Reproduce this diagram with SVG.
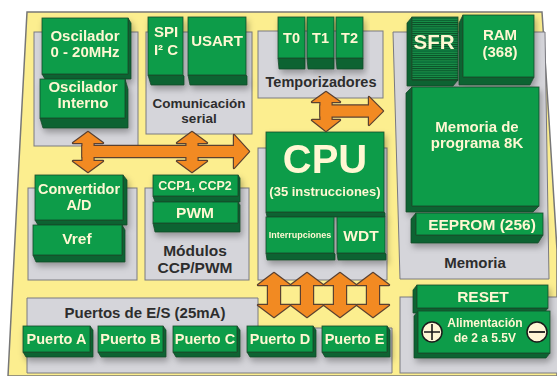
<svg xmlns="http://www.w3.org/2000/svg" width="557" height="376" viewBox="0 0 557 376">
<style>
.t{font-family:"Liberation Sans",Arial,sans-serif;font-weight:bold;fill:#fff7d2;text-anchor:middle}
.l{font-family:"Liberation Sans",Arial,sans-serif;font-weight:bold;fill:#2d2d2d;text-anchor:middle}
.pan{fill:#d5d5da;stroke:#7a7a80;stroke-width:1}
.face{fill:#0a9c49;stroke:#1c4a2c;stroke-width:0.8}
.side{fill:#0a6331;stroke:#1c4a2c;stroke-width:0.8}
.arS{fill:none;stroke:#5a4030;stroke-width:2.4;stroke-linejoin:round}
.arF{fill:#f28a22}
</style>
<defs>
<filter id="sh" x="-15%" y="-15%" width="140%" height="150%">
<feDropShadow dx="2" dy="4" stdDeviation="3" flood-color="#000" flood-opacity="0.3"/>
</filter>
<pattern id="stripes" width="4" height="2.2" patternUnits="userSpaceOnUse">
<rect width="4" height="2.2" fill="#149048"/>
<rect width="4" height="0.9" fill="#0b4a27"/>
</pattern>
</defs>
<rect width="557" height="376" fill="#ffffff"/>
<polygon points="27,12 542,12 549,120 557,250 557,376 8,376 18,180" fill="#fcee8f" stroke="#777" stroke-width="1.5"/>

<!-- panels -->
<g id="panel-osc"><rect class="pan" x="34" y="32" width="104" height="114"/></g>
<g id="panel-com"><rect class="pan" x="146" y="32" width="106" height="102"/>
<text class="l" x="199" y="108" font-size="13.5">Comunicación</text>
<text class="l" x="199" y="123" font-size="13.5">serial</text></g>
<g id="panel-tmr"><rect class="pan" x="258" y="31" width="125" height="67"/>
<text class="l" x="321" y="87" font-size="14.5">Temporizadores</text></g>
<g id="panel-mem"><polygon class="pan" points="393,32 545,32 549,279 400,279"/>
<text class="l" x="475" y="268" font-size="15">Memoria</text></g>
<g id="panel-adc"><rect class="pan" x="28" y="188" width="109" height="92"/></g>
<g id="panel-ccp"><rect class="pan" x="145" y="188" width="104" height="92"/>
<text class="l" x="195" y="256" font-size="15.5">Módulos</text>
<text class="l" x="195" y="273" font-size="15.5">CCP/PWM</text></g>
<g id="panel-cpu"><rect class="pan" x="258" y="148" width="129" height="132"/></g>
<g id="panel-io"><polygon class="pan" points="27,298 258,298 258,328 392,328 392,373 27,373"/>
<text class="l" x="145" y="318" font-size="15">Puertos de E/S (25mA)</text></g>
<g id="panel-pwr"><rect class="pan" x="400" y="297" width="160" height="76"/></g>

<!-- blocks -->
<g id="osc" filter="url(#sh)">
<polygon class="side" points="42,74 45,79 131,79 131,23 128,18 128,74"/>
<rect class="face" x="42" y="18" width="86" height="56"/>
<text class="t" x="85" y="41" font-size="15">Oscilador</text>
<text class="t" x="85" y="57" font-size="15">0 - 20MHz</text>
</g>
<g id="osc-int" filter="url(#sh)">
<polygon class="side" points="40,118 43,128 128,128 128,89 125,79 125,118"/>
<rect class="face" x="40" y="79" width="85" height="39"/>
<text class="t" x="83" y="92" font-size="15">Oscilador</text>
<text class="t" x="83" y="108" font-size="15">Interno</text>
</g>
<g id="spi" filter="url(#sh)">
<polygon class="side" points="148,75 151,85 184,85 184,76 183,75"/>
<rect class="face" x="148" y="17" width="35" height="58"/>
<text class="t" x="166" y="37" font-size="15">SPI</text>
<text class="t" x="166" y="55" font-size="15">I² C</text>
</g>
<g id="usart" filter="url(#sh)">
<polygon class="side" points="188,75 190,85 247,85 247,76 246,75"/>
<rect class="face" x="188" y="17" width="58" height="58"/>
<text class="t" x="217" y="46" font-size="15">USART</text>
</g>
<g id="t0" filter="url(#sh)">
<polygon class="side" points="278,58 279,69 305,69 305,58"/>
<rect class="face" x="278" y="17" width="27" height="41"/>
<text class="t" x="291.5" y="43" font-size="14.5">T0</text>
</g>
<g id="t1" filter="url(#sh)">
<polygon class="side" points="307,58 308,69 334,69 334,58"/>
<rect class="face" x="307" y="17" width="27" height="41"/>
<text class="t" x="320.5" y="43" font-size="14.5">T1</text>
</g>
<g id="t2" filter="url(#sh)">
<polygon class="side" points="336,58 337,69 363,69 363,58"/>
<rect class="face" x="336" y="17" width="27" height="41"/>
<text class="t" x="349.5" y="43" font-size="14.5">T2</text>
</g>
<g id="sfr" filter="url(#sh)">
<polygon class="side" points="412,17 407,23 407,86 453,86 458,80 412,80" fill="#083d20"/>
<rect x="412" y="17" width="46" height="63" fill="url(#stripes)" stroke="#1c4a2c" stroke-width="0.8"/>
<text class="t" x="434" y="49" font-size="20.5">SFR</text>
</g>
<g id="ram" filter="url(#sh)">
<polygon class="side" points="463,15 459,23 459,85 530,85 534,77 463,77"/>
<rect class="face" x="463" y="15" width="71" height="62"/>
<text class="t" x="500" y="40" font-size="15">RAM</text>
<text class="t" x="500" y="57" font-size="15">(368)</text>
</g>
<g id="prog" filter="url(#sh)">
<polygon class="side" points="412,87 406,93 406,212 533,212 539,206 412,206"/>
<rect class="face" x="412" y="87" width="127" height="119"/>
<text class="t" x="477" y="132" font-size="15">Memoria de</text>
<text class="t" x="477" y="148" font-size="15">programa 8K</text>
</g>
<g id="eeprom" filter="url(#sh)">
<polygon class="side" points="416,213 411,219 411,243 538,243 543,235 416,235"/>
<rect class="face" x="416" y="213" width="127" height="22"/>
<text class="t" x="482" y="230" font-size="15.5">EEPROM (256)</text>
</g>
<g id="cpu" filter="url(#sh)">
<polygon class="side" points="266,212 267,217 385,217 385,213 384,212"/>
<rect class="face" x="266" y="132" width="118" height="80"/>
<text class="t" x="325" y="173" font-size="40">CPU</text>
<text class="t" x="325" y="196" font-size="13">(35 instrucciones)</text>
</g>
<g id="int" filter="url(#sh)">
<polygon class="side" points="266,253 267,260 335,260 335,254 334,253"/>
<rect class="face" x="266" y="217" width="68" height="36"/>
<text class="t" x="300" y="238" font-size="9">Interrupciones</text>
</g>
<g id="wdt" filter="url(#sh)">
<polygon class="side" points="337,253 338,260 386,260 386,254 385,253"/>
<rect class="face" x="337" y="217" width="48" height="36"/>
<text class="t" x="361" y="241" font-size="15.5">WDT</text>
</g>
<g id="adc" filter="url(#sh)">
<polygon class="side" points="35,220 38,225 127,225 127,180 123,175 123,220"/>
<rect class="face" x="35" y="175" width="88" height="45"/>
<text class="t" x="79" y="194" font-size="14.5">Convertidor</text>
<text class="t" x="79" y="210" font-size="14.5">A/D</text>
</g>
<g id="vref" filter="url(#sh)">
<polygon class="side" points="33,255 36,262 125,262 125,230 122,225 122,255"/>
<rect class="face" x="33" y="225" width="89" height="30"/>
<text class="t" x="77" y="244" font-size="15.5">Vref</text>
</g>
<g id="ccp" filter="url(#sh)">
<polygon class="side" points="153,196 155,202 240,202 240,178 238,175 238,196"/>
<rect class="face" x="153" y="175" width="85" height="21"/>
<text class="t" x="195" y="190" font-size="12.5">CCP1, CCP2</text>
</g>
<g id="pwm" filter="url(#sh)">
<polygon class="side" points="153,223 155,232 240,232 240,205 238,202 238,223"/>
<rect class="face" x="153" y="202" width="85" height="21"/>
<text class="t" x="195" y="218" font-size="15.5">PWM</text>
</g>
<g id="pa" filter="url(#sh)">
<polygon class="side" points="23,352 26,357 93,357 93,330 90,326 90,352"/>
<rect class="face" x="23" y="326" width="67" height="26"/>
<text class="t" x="56.5" y="344" font-size="14.5">Puerto A</text>
</g>
<g id="pb" filter="url(#sh)">
<polygon class="side" points="98,352 101,357 166,357 166,330 163,326 163,352"/>
<rect class="face" x="98" y="326" width="65" height="26"/>
<text class="t" x="130.5" y="344" font-size="14.5">Puerto B</text>
</g>
<g id="pc" filter="url(#sh)">
<polygon class="side" points="173,352 176,357 240,357 240,330 237,326 237,352"/>
<rect class="face" x="173" y="326" width="64" height="26"/>
<text class="t" x="205" y="344" font-size="14.5">Puerto C</text>
</g>
<g id="pd" filter="url(#sh)">
<polygon class="side" points="247,352 250,357 316,357 316,330 313,326 313,352"/>
<rect class="face" x="247" y="326" width="66" height="26"/>
<text class="t" x="280" y="344" font-size="14.5">Puerto D</text>
</g>
<g id="pe" filter="url(#sh)">
<polygon class="side" points="322,352 325,357 390,357 390,330 387,326 387,352"/>
<rect class="face" x="322" y="326" width="65" height="26"/>
<text class="t" x="354.5" y="344" font-size="14.5">Puerto E</text>
</g>
<g id="reset" filter="url(#sh)">
<polygon class="side" points="417,285 413,290 413,313 544,313 548,308 417,308"/>
<rect class="face" x="417" y="285" width="131" height="23"/>
<text class="t" x="483" y="302" font-size="15.5">RESET</text>
</g>
<g id="power" filter="url(#sh)">
<polygon class="side" points="418,311 414,316 414,358 546,358 550,353 418,353"/>
<rect class="face" x="418" y="311" width="132" height="42"/>
<text class="t" x="485" y="327" font-size="12">Alimentación</text>
<text class="t" x="485" y="342" font-size="12">de 2 a 5.5V</text>
<circle cx="432" cy="332" r="10" fill="#fff6d5" stroke="#1a1a1a" stroke-width="1.5"/>
<path d="M432,324 V340 M424,332 H440" stroke="#1a1a1a" stroke-width="1.6"/>
<circle cx="537" cy="332" r="10" fill="#fff6d5" stroke="#1a1a1a" stroke-width="1.5"/>
<path d="M529,332 H545" stroke="#1a1a1a" stroke-width="1.8"/>
</g>

<!-- connectors -->
<g id="connectors">
<g class="arS">
<path d="M88,132 L103,143 L93.5,143 L93.5,161 L103,161 L88,172 L73,161 L82.5,161 L82.5,143 L73,143 Z"/>
<path d="M192,132 L207,143 L197.5,143 L197.5,161 L207,161 L192,172 L177,161 L186.5,161 L186.5,143 L177,143 Z"/>
<path d="M82.5,146 H234 V135 L249,151.5 L234,168 V157 H82.5 Z"/>
<path d="M326,92 L340,102 L331.5,102 L331.5,120 L340,120 L326,131 L312,120 L320.5,120 L320.5,102 L312,102 Z"/>
<path d="M320.5,105.5 H369 V97 L383,111 L369,125 V116.5 H320.5 Z"/>
<path d="M274,273 L290,285 L280,285 L280,305 L290,305 L274,317 L258,305 L268,305 L268,285 L258,285 Z"/>
<path d="M307,273 L323,285 L313,285 L313,305 L323,305 L307,317 L291,305 L301,305 L301,285 L291,285 Z"/>
<path d="M340,273 L356,285 L346,285 L346,305 L356,305 L340,317 L324,305 L334,305 L334,285 L324,285 Z"/>
<path d="M373,273 L389,285 L379,285 L379,305 L389,305 L373,317 L357,305 L367,305 L367,285 L357,285 Z"/>
</g>
<g class="arF">
<path d="M88,132 L103,143 L93.5,143 L93.5,161 L103,161 L88,172 L73,161 L82.5,161 L82.5,143 L73,143 Z"/>
<path d="M192,132 L207,143 L197.5,143 L197.5,161 L207,161 L192,172 L177,161 L186.5,161 L186.5,143 L177,143 Z"/>
<path d="M82.5,146 H234 V135 L249,151.5 L234,168 V157 H82.5 Z"/>
<path d="M326,92 L340,102 L331.5,102 L331.5,120 L340,120 L326,131 L312,120 L320.5,120 L320.5,102 L312,102 Z"/>
<path d="M320.5,105.5 H369 V97 L383,111 L369,125 V116.5 H320.5 Z"/>
<path d="M274,273 L290,285 L280,285 L280,305 L290,305 L274,317 L258,305 L268,305 L268,285 L258,285 Z"/>
<path d="M307,273 L323,285 L313,285 L313,305 L323,305 L307,317 L291,305 L301,305 L301,285 L291,285 Z"/>
<path d="M340,273 L356,285 L346,285 L346,305 L356,305 L340,317 L324,305 L334,305 L334,285 L324,285 Z"/>
<path d="M373,273 L389,285 L379,285 L379,305 L389,305 L373,317 L357,305 L367,305 L367,285 L357,285 Z"/>
</g>
</g>
</svg>
